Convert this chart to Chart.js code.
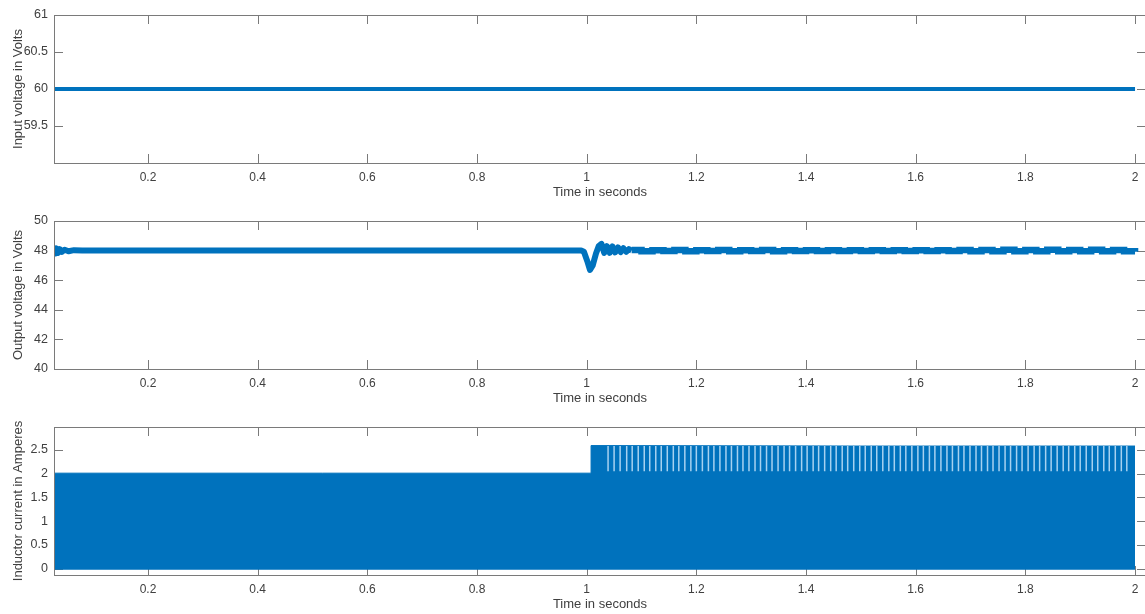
<!DOCTYPE html>
<html>
<head>
<meta charset="utf-8">
<script src="https://cdn.jsdelivr.net/npm/chart.js@4/dist/chart.umd.min.js"></script>
<style>
  body { margin: 0; width: 1145px; height: 614px; overflow: hidden; background: #fff; position: relative; }
  .panel { position: absolute; left: 0; width: 1152px; height: 206px; }
</style>
</head>
<body>
<div class="panel" style="top:0px"><canvas id="vin" width="1152" height="206"></canvas></div>
<div class="panel" style="top:206px"><canvas id="vout" width="1152" height="206"></canvas></div>
<div class="panel" style="top:412px"><canvas id="il" width="1152" height="206"></canvas></div>
<script>
// x axis (time, s)
const timeTicks = [0.2, 0.4, 0.6, 0.8, 1, 1.2, 1.4, 1.6, 1.8, 2];
const timeMin = 0.0286, timeMax = 2.02;

// input voltage
const vinTime = [0.0286, 2.0];
const vinVolts = [60, 60];
const vinTicks = [59.5, 60, 60.5, 61];

// output voltage: start-up wobble, load step at 1 s
const voutTime = [0.0286, 0.031, 0.033, 0.036, 0.039, 0.043, 0.048, 0.055, 0.065, 0.08, 0.5, 0.99,
  0.995, 1.001, 1.006, 1.011, 1.017, 1.022, 1.027, 1.032, 1.037, 1.042, 1.047, 1.052, 1.057, 1.062,
  1.067, 1.072, 1.077, 1.082];
const voutVolts = [48.15, 47.8, 48.15, 47.85, 48.1, 47.92, 48.06, 47.96, 48.03, 48.0, 48.0, 48.0,
  47.92, 47.3, 46.7, 47.0, 47.8, 48.3, 48.45, 47.85, 48.3, 47.85, 48.28, 47.88, 48.22, 47.9,
  48.16, 47.92, 48.1, 48.0];
// output voltage ripple after the step (stepped)
const voutTailTime = [1.082, 1.10, 1.12, 1.14, 1.16, 1.18, 1.20, 1.22, 1.24, 1.26, 1.28, 1.30, 1.32,
  1.34, 1.36, 1.38, 1.40, 1.42, 1.44, 1.46, 1.48, 1.50, 1.52, 1.54, 1.56, 1.58, 1.60, 1.62, 1.64,
  1.66, 1.68, 1.70, 1.72, 1.74, 1.76, 1.78, 1.80, 1.82, 1.84, 1.86, 1.88, 1.90, 1.92, 1.94, 1.96,
  1.98, 2.0];
const voutTailVolts = [48.04, 47.96, 48.03, 47.97, 48.04, 47.96, 48.03, 47.97, 48.04, 47.96, 48.03,
  47.97, 48.04, 47.96, 48.03, 47.97, 48.02, 47.98, 48.03, 47.97, 48.02, 47.98, 48.03, 47.97, 48.02,
  47.98, 48.02, 47.97, 48.03, 47.97, 48.04, 47.96, 48.04, 47.96, 48.05, 47.96, 48.04, 47.95, 48.05,
  47.96, 48.04, 47.95, 48.05, 47.96, 48.04, 47.96, 47.92];
const voutTicks = [40, 42, 44, 46, 48, 50];

// inductor current (switching band: upper envelope, lower floor, light gaps)
const ilTime = [0.0286, 1.008, 1.008, 1.5, 2.0];
const ilUpper = [2.01, 2.01, 2.59, 2.58, 2.58];
const ilFloor = -0.02;
const gapTimes = [1.039, 1.05, 1.061, 1.073, 1.083, 1.094, 1.105, 1.115, 1.126, 1.136, 1.147, 1.158,
  1.168, 1.179, 1.19, 1.2, 1.211, 1.222, 1.232, 1.243, 1.254, 1.264, 1.275, 1.285, 1.296, 1.307,
  1.317, 1.328, 1.338, 1.349, 1.36, 1.37, 1.381, 1.392, 1.402, 1.413, 1.423, 1.434, 1.445, 1.455,
  1.466, 1.476, 1.487, 1.498, 1.508, 1.519, 1.529, 1.54, 1.551, 1.561, 1.572, 1.582, 1.593, 1.604,
  1.614, 1.625, 1.635, 1.646, 1.657, 1.667, 1.678, 1.688, 1.699, 1.71, 1.72, 1.731, 1.741, 1.752,
  1.763, 1.773, 1.784, 1.794, 1.805, 1.816, 1.826, 1.837, 1.847, 1.858, 1.869, 1.879, 1.89, 1.9,
  1.911, 1.922, 1.932, 1.943, 1.953, 1.964, 1.975, 1.985];
const gapLow = 2.05, gapHigh = 2.58;
const ilTicks = [0, 0.5, 1, 1.5, 2, 2.5];

const blue = '#0072BD';
const axisColor = '#7a7a7a';
const textColor = '#404040';
const fontFamily = "'Liberation Sans', Arial, Helvetica, sans-serif";
const tickLen = 9;

const zip = (xs, ys) => xs.map((x, i) => ({x: x, y: ys[i]}));

// MATLAB style box with inward ticks on all four sides
const matlabBox = {
  id: 'matlabBox',
  beforeDatasetsDraw(chart) {
    const {ctx, chartArea: a, scales: {x, y}} = chart;
    ctx.save();
    ctx.strokeStyle = axisColor;
    ctx.lineWidth = 1;
    ctx.beginPath();
    x.ticks.forEach(t => {
      const px = Math.round(x.getPixelForValue(t.value)) + 0.5;
      ctx.moveTo(px, a.bottom); ctx.lineTo(px, a.bottom - tickLen);
      ctx.moveTo(px, a.top); ctx.lineTo(px, a.top + tickLen);
    });
    y.ticks.forEach(t => {
      const py = Math.round(y.getPixelForValue(t.value)) + 0.5;
      ctx.moveTo(a.left, py); ctx.lineTo(a.left + tickLen, py);
      ctx.moveTo(a.right, py); ctx.lineTo(a.right - tickLen, py);
    });
    ctx.stroke();
    ctx.restore();
  },
  afterDatasetsDraw(chart) {
    const {ctx, chartArea: a} = chart;
    ctx.save();
    ctx.strokeStyle = axisColor;
    ctx.lineWidth = 1;
    ctx.strokeRect(Math.round(a.left) + 0.5, Math.round(a.top) + 0.5,
      Math.round(a.right - a.left), Math.round(a.bottom - a.top));
    ctx.restore();
  }
};

function makePanel(id, datasets, yMin, yMax, yTicks, yTitle) {
  return new Chart(document.getElementById(id), {
    type: 'line',
    data: { datasets: datasets },
    options: {
      responsive: false,
      animation: false,
      devicePixelRatio: 1,
      layout: { padding: { top: 15, right: 6, left: 0, bottom: 0 } },
      plugins: { legend: { display: false }, tooltip: { enabled: false } },
      elements: { point: { radius: 0 }, line: { tension: 0 } },
      scales: {
        x: {
          type: 'linear',
          min: timeMin,
          max: timeMax,
          grid: { display: false, drawTicks: false },
          border: { display: false },
          afterBuildTicks: s => { s.ticks = timeTicks.map(v => ({value: v})); },
          afterFit: s => { s.height = 43; },
          ticks: {
            padding: 7,
            color: textColor,
            font: { family: fontFamily, size: 12 },
            maxRotation: 0,
            autoSkip: false,
            callback: v => String(v)
          },
          title: {
            display: true,
            text: 'Time in seconds',
            color: textColor,
            font: { family: fontFamily, size: 13 },
            padding: { top: 0, bottom: 6 }
          }
        },
        y: {
          min: yMin,
          max: yMax,
          grid: { display: false, drawTicks: false },
          border: { display: false },
          afterBuildTicks: s => { s.ticks = yTicks.map(v => ({value: v})); },
          afterFit: s => { s.width = 54; },
          ticks: {
            padding: 6,
            color: textColor,
            font: { family: fontFamily, size: 12.5 },
            autoSkip: false,
            callback: v => String(v)
          },
          title: {
            display: true,
            text: yTitle,
            color: textColor,
            font: { family: fontFamily, size: 13 },
            padding: { top: 11, bottom: 0 }
          }
        }
      }
    },
    plugins: [matlabBox]
  });
}

makePanel('vin', [{
  data: zip(vinTime, vinVolts),
  borderColor: blue,
  borderWidth: 4
}], 59, 61, vinTicks, 'Input voltage in Volts');

makePanel('vout', [
  {
    data: zip(voutTime, voutVolts),
    borderColor: blue,
    borderWidth: 6,
    borderJoinStyle: 'round'
  },
  {
    data: zip(voutTailTime, voutTailVolts),
    borderColor: blue,
    borderWidth: 6.5,
    stepped: true
  }
], 40, 50, voutTicks, 'Output voltage in Volts');

const gapPoints = [];
gapTimes.forEach(t => {
  gapPoints.push({x: t, y: gapLow}, {x: t, y: gapHigh}, {x: t, y: null});
});

makePanel('il', [
  {
    data: gapPoints,
    borderColor: '#a6d1f0',
    borderWidth: 1.5,
    spanGaps: false,
    fill: false,
    order: 0
  },
  {
    data: zip(ilTime, ilUpper),
    borderColor: blue,
    borderWidth: 1,
    backgroundColor: blue,
    fill: { value: ilFloor },
    order: 1
  }
], -0.13, 2.98, ilTicks, 'Inductor current in Amperes');
</script>
</body>
</html>
